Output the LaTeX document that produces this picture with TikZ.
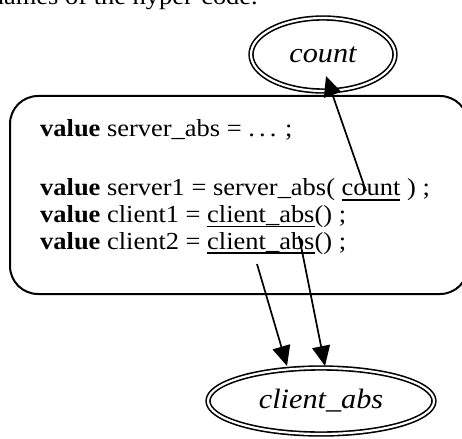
\documentclass[tikz,border=0pt]{standalone}
\usepackage{fontspec}
\setmainfont{Liberation Serif}
\newfontfamily\widefont[FakeStretch=1.08]{Liberation Serif}
\usetikzlibrary{shapes.geometric,arrows.meta}
\newcommand\myul[1]{\setbox0\hbox{#1}\rlap{\rule[-4.5pt]{\wd0}{1.3pt}}\box0}
\tikzset{
  ring/.style={ellipse, draw, line width=1.6pt, double, double distance=2.2pt, inner sep=0pt,
    font=\widefont\fontsize{28}{28}\selectfont\itshape},
  codeline/.style={anchor=base west, inner sep=0pt, font=\widefont\fontsize{24.5}{24.5}\selectfont},
  conn/.style={line width=1.7pt, -{Triangle[length=20pt,width=18pt]}},
  panel/.style={draw, line width=2pt, rounded corners=28pt}
}
\begin{document}
\begin{tikzpicture}[x=1pt,y=-1pt]
\useasboundingbox (0,0) rectangle (462,438);
% clipped caption text at the top
\node[anchor=base east, inner sep=0pt, font=\widefont\fontsize{24.5}{24.5}\selectfont] (caption) at (258,5) {names of the hyper-code.};
% panel
\draw[panel] (10,96) rectangle (468,294);
% code lines
\node[codeline] (l1) at (40,136.5) {\textbf{value} server\_abs = .\,.\,. ;};
\node[codeline] (l2) at (40,196) {\textbf{value} server1 = server\_abs(\ \myul{count}\ ) ;};
\node[codeline] (l3) at (40,222.5) {\textbf{value} client1 = \myul{client\_abs}() ;};
\node[codeline] (l4) at (40,249) {\textbf{value} client2 = \myul{client\_abs}() ;};
% nodes
\node[ring, minimum width=144pt, minimum height=73pt] (count) at (323,54.5) {count};
\node[ring, minimum width=226pt, minimum height=66pt] (client) at (321,401) {client\_abs};
% connector ends
\coordinate (s1) at (366,191);
\coordinate (t1) at (326,76);
\coordinate (s2) at (299,236);
\coordinate (t2) at (325,366);
\coordinate (s3) at (257,264);
\coordinate (t3) at (287,366);
\draw[conn] (s1) -- (t1);
\draw[conn] (s2) -- (t2);
\draw[conn] (s3) -- (t3);
\end{tikzpicture}
\end{document}
